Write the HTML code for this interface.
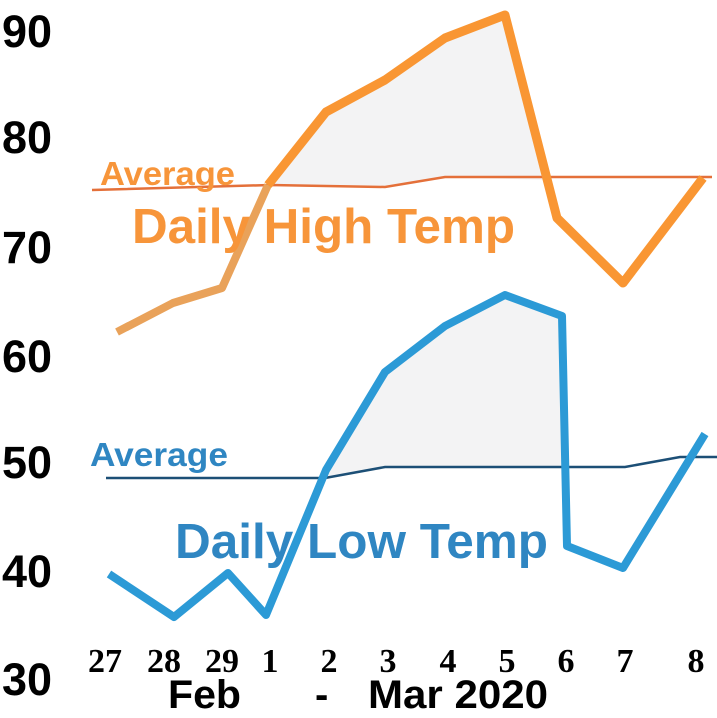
<!DOCTYPE html>
<html><head><style>
html,body{margin:0;padding:0;background:#fff;}
svg{display:block;}
.y{font-family:"Liberation Sans",sans-serif;font-weight:bold;font-size:45px;fill:#000;}
.x{font-family:"Liberation Serif",serif;font-weight:bold;font-size:34px;fill:#000;}
</style></head><body>
<svg width="717" height="718" viewBox="0 0 717 718">
<rect width="717" height="718" fill="#fff"/>
<polygon points="268,185 326,112 385,80 445,38 505,15 548,180 445,177 385,187" fill="#f3f3f4"/>
<polygon points="326,478 385,372 445,326 505,295 562,316 565,467 385,467" fill="#f3f3f4"/>
<polyline points="92,190 270,185 385,187 445,177 712,177" fill="none" stroke="#e4703a" stroke-width="2.5"/>
<polyline points="106,478 325,478 385,467 625,467 680,457 717,457" fill="none" stroke="#1c4f76" stroke-width="2.5"/>
<polyline points="117,332 173,303 222,288 268,185" fill="none" stroke="#e9a25a" stroke-width="8" stroke-linejoin="round"/>
<polyline points="268,185 326,112 385,80 445,38 505,15 557,218 623,283 703,178" fill="none" stroke="#f99633" stroke-width="9" stroke-linejoin="round"/>
<polyline points="109,574 174,617 228,573 266,615 326,470 385,372 445,326 505,295 562,316 567,546 623,568 705,434" fill="none" stroke="#2c9ad6" stroke-width="8" stroke-linejoin="round"/>
<g font-family="Liberation Sans,sans-serif" font-weight="bold">
<text x="100" y="185" font-size="33" fill="#f7953a" textLength="135" lengthAdjust="spacingAndGlyphs">Average</text>
<text x="132" y="243" font-size="49" fill="#f7953a" textLength="383" lengthAdjust="spacingAndGlyphs">Daily High Temp</text>
<text x="90" y="466" font-size="33" fill="#2f86c2" textLength="138" lengthAdjust="spacingAndGlyphs">Average</text>
<text x="175" y="558" font-size="49" fill="#2f86c2" textLength="373" lengthAdjust="spacingAndGlyphs">Daily Low Temp</text>
</g>
<text class="y" x="2" y="47">90</text>
<text class="y" x="2" y="153">80</text>
<text class="y" x="2" y="263">70</text>
<text class="y" x="2" y="372">60</text>
<text class="y" x="2" y="478">50</text>
<text class="y" x="2" y="587">40</text>
<text class="y" x="2" y="695">30</text>
<g class="x" text-anchor="middle">
<text x="105" y="672">27</text><text x="164" y="672">28</text><text x="222" y="672">29</text>
<text x="270" y="672">1</text><text x="329" y="672">2</text><text x="388" y="672">3</text>
<text x="448" y="672">4</text><text x="507" y="672">5</text><text x="566" y="672">6</text>
<text x="625" y="672">7</text><text x="696" y="672">8</text>
</g>
<g font-family="Liberation Sans,sans-serif" font-weight="bold" font-size="40" fill="#000">
<text x="168" y="708" textLength="73" lengthAdjust="spacingAndGlyphs">Feb</text>
<text x="315" y="708">-</text>
<text x="368" y="708" textLength="180" lengthAdjust="spacingAndGlyphs">Mar 2020</text>
</g>
</svg>
</body></html>
